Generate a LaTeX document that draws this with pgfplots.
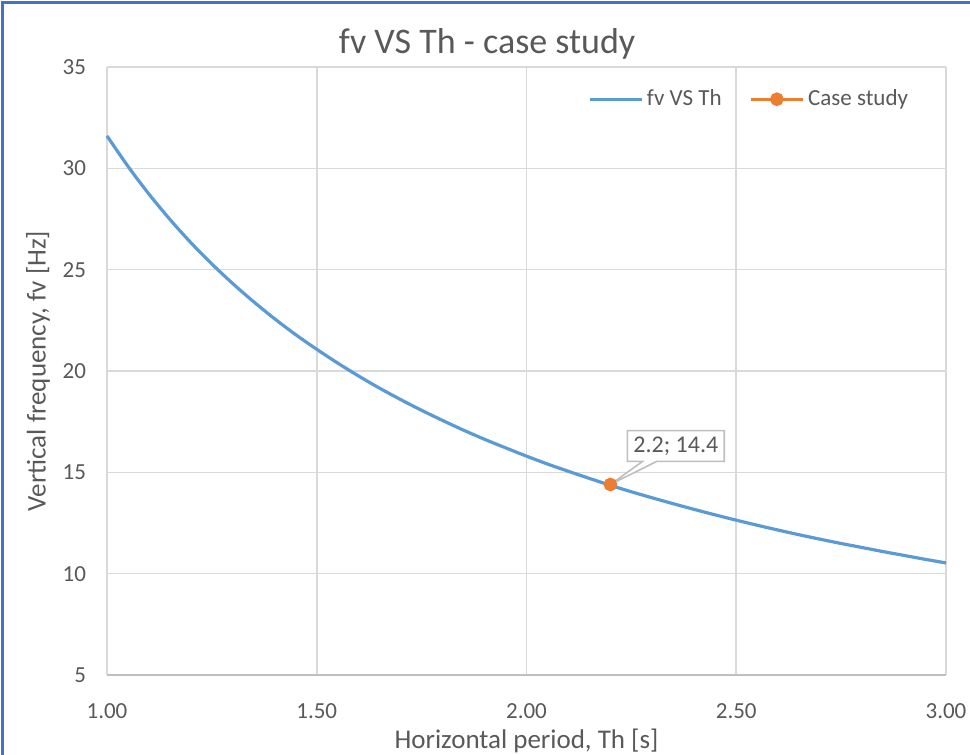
\documentclass[border=0pt]{standalone}
\usepackage{pgfplots}
\pgfplotsset{compat=1.18}
\usepackage{fontspec}
\setmainfont{Carlito}
\usetikzlibrary{shapes.callouts}
\definecolor{txt}{HTML}{595959}
\definecolor{gridc}{HTML}{D9D9D9}
\definecolor{axc}{HTML}{BFBFBF}
\definecolor{blueline}{HTML}{5B9BD5}
\definecolor{orangept}{HTML}{ED7D31}
\definecolor{frame}{HTML}{4472C4}
\begin{document}
\begin{tikzpicture}
\useasboundingbox (-53.5pt,-40pt) rectangle (431.5pt,337.5pt);
\clip (-53.5pt,-40pt) rectangle (431.5pt,337.5pt);
\fill[white] (-53.5pt,-40pt) rectangle (431.5pt,337.5pt);
\begin{axis}[
  at={(0,0)}, anchor=south west,
  scale only axis, width=419.5pt, height=304pt,
  xmin=1, xmax=3, ymin=5, ymax=35,
  xtick={1,1.5,2,2.5,3},
  ytick={5,10,15,20,25,30,35},
  /pgf/number format/assume math mode=true,
  axis x line=bottom, axis y line=left,
  x axis line style={-, draw=axc, line width=1pt},
  y axis line style={draw=none},
  major tick length=0pt,
  grid=major,
  major grid style={draw=gridc, line width=0.8pt},
  ticklabel style={font=\fontsize{11.5}{13}\selectfont, text=txt},
  xticklabel style={yshift=-11pt, /pgf/number format/fixed, /pgf/number format/fixed zerofill, /pgf/number format/precision=2},
  yticklabel style={xshift=-7pt},
  every axis title shift=0pt,
  title={fv VS Th - case study},
  title style={at={(axis description cs:0.453,1.0378)}, anchor=center, font=\fontsize{18}{21}\selectfont, text=txt},
  xlabel={Horizontal period, Th [s]},
  ylabel={Vertical frequency, fv [Hz]},
  every axis x label/.style={at={(axis description cs:0.5,-0.1086)}, anchor=center, font=\fontsize{13.5}{16}\selectfont, text=txt},
  every axis y label/.style={at={(axis description cs:-0.0822,0.5)}, anchor=center, rotate=90, font=\fontsize{13.5}{16}\selectfont, text=txt},
  legend columns=2,
  legend style={draw=none, fill=none, at={(0.96,0.947)}, anchor=east, font=\fontsize{11.5}{13}\selectfont, text=txt,
    /tikz/every even column/.append style={column sep=12pt}, inner sep=0pt},
  legend image code/.code={\draw[#1, mark repeat=2, mark phase=2] plot coordinates {(0cm,0cm) (0.45cm,0cm) (0.9cm,0cm)};},
  clip=false,
]
\addplot[blueline, line width=1.6pt, smooth, no marks] coordinates {
(1.00,31.60) (1.05,30.10) (1.10,28.73) (1.15,27.48) (1.20,26.33) (1.25,25.28)
(1.30,24.31) (1.35,23.41) (1.40,22.57) (1.45,21.79) (1.50,21.07) (1.55,20.39)
(1.60,19.75) (1.65,19.15) (1.70,18.59) (1.75,18.06) (1.80,17.56) (1.85,17.08)
(1.90,16.63) (1.95,16.21) (2.00,15.80) (2.05,15.41) (2.10,15.05) (2.15,14.70)
(2.20,14.36) (2.25,14.04) (2.30,13.74) (2.35,13.45) (2.40,13.17) (2.45,12.90)
(2.50,12.64) (2.55,12.39) (2.60,12.15) (2.65,11.92) (2.70,11.70) (2.75,11.49)
(2.80,11.29) (2.85,11.09) (2.90,10.90) (2.95,10.71) (3.00,10.53)
};
\addlegendentry{fv VS Th}
\addplot[orangept, line width=1.6pt, mark=*, mark size=2.6pt, mark options={fill=orangept, draw=orangept}] coordinates {(2.2,14.4)};
\addlegendentry{Case study}
\node[rectangle callout, draw=axc, fill=white, line width=0.8pt, text=txt, font=\fontsize{12}{14}\selectfont,
  inner sep=3pt, callout absolute pointer={(axis cs:2.2,14.4)}] at (axis cs:2.356,16.3) {2.2; 14.4};
\end{axis}
\draw[frame, line width=1.5pt] (-52pt,-40pt) -- (-52pt,336pt) -- (431.5pt,336pt);
\end{tikzpicture}
\end{document}
